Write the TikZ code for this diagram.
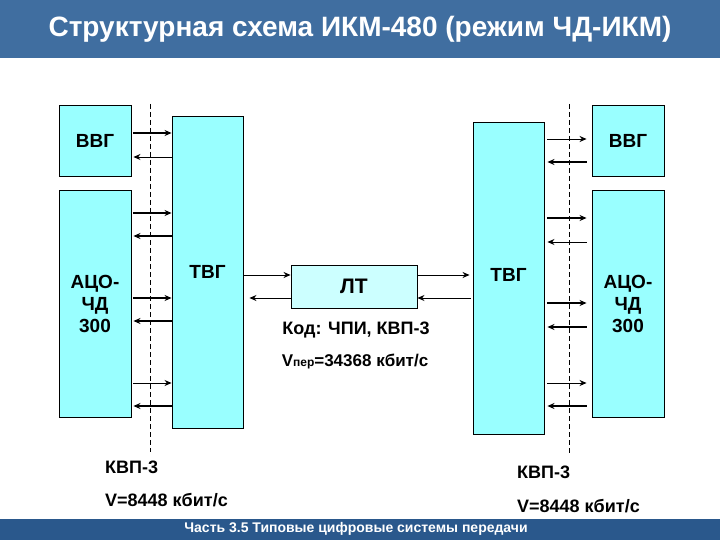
\documentclass[tikz,border=0pt]{standalone}
\usepackage{fontspec}
\setmainfont{Liberation Sans}
\usepackage{tikz}
\usetikzlibrary{arrows.meta}
\definecolor{slideblue}{RGB}{64,110,160}
\definecolor{footblue}{RGB}{42,88,140}
\definecolor{boxcyan}{RGB}{153,255,255}
\definecolor{ltcyan}{RGB}{204,255,255}

\tikzset{
  blk/.style={draw=black, fill=boxcyan, line width=0.9pt, inner sep=0pt,
    align=center, font=\bfseries\fontsize{19}{22}\selectfont},
  fw/.style={-{Stealth[length=7pt,width=6pt]}, line width=0.8pt},
  fwb/.style={fw, line width=2.2pt},
  bk/.style={{Stealth[length=7pt,width=6pt]}-, line width=0.8pt},
  bkb/.style={bk, line width=2.2pt},
  lbl/.style={font=\bfseries\fontsize{18}{21}\selectfont, anchor=west, inner sep=0pt}
}

\begin{document}
\begin{tikzpicture}[x=1pt, y=-1pt]
  \useasboundingbox (0,0) rectangle (720,540);
  \fill[slideblue] (0,0) rectangle (720,58);
  \fill[footblue] (0,519) rectangle (720,540);
  \node[white, font=\bfseries\fontsize{28}{32}\selectfont] (title) at (360,29)
    {Структурная схема ИКМ-480 (режим ЧД-ИКМ)};
  \node[white, font=\bfseries\fontsize{14}{16}\selectfont] (foot) at (356,529)
    {Часть 3.5 Типовые цифровые системы передачи};
  % Left side
  \node[blk, minimum width=72, minimum height=71] (vvgL) at (95,140.5) {ВВГ};
  \node[blk, minimum width=72, minimum height=227] (acoL) at (95,303.5) {АЦО-\\ЧД\\300};
  \node[blk, minimum width=71, minimum height=312] (tvgL) at (207.5,272) {};
  \node[font=\bfseries\fontsize{19}{22}\selectfont] at (207.5,272) {ТВГ};
  \coordinate (dashLa) at (150,104);
  \coordinate (dashLb) at (150,452);
  \draw[dash pattern=on 5pt off 3pt, line width=0.8pt] (dashLa) -- (dashLb);
  \foreach \y/\s in {133/fwb, 157/bk}
    \draw[\s, shorten <=2pt] (vvgL.east |- 0,\y) -- (tvgL.west |- 0,\y);
  \foreach \y/\s in {213/fwb, 236/bkb, 298/fwb, 321/bkb, 383/fw, 406/bkb}
    \draw[\s, shorten <=2pt] (acoL.east |- 0,\y) -- (tvgL.west |- 0,\y);
  % Right side
  \node[blk, minimum width=72, minimum height=71] (vvgR) at (628,140.5) {ВВГ};
  \node[blk, minimum width=72, minimum height=227] (acoR) at (628,303.5) {АЦО-\\ЧД\\300};
  \node[blk, minimum width=71, minimum height=312] (tvgR) at (508.5,278) {};
  \node[font=\bfseries\fontsize{19}{22}\selectfont] at (508.5,275) {ТВГ};
  \coordinate (dashRa) at (569,104);
  \coordinate (dashRb) at (569,455);
  \draw[dash pattern=on 5pt off 3pt, line width=0.8pt] (dashRa) -- (dashRb);
  \foreach \y/\s in {139/fw, 162/bkb}
    \draw[\s, shorten <=3pt, shorten >=5pt] (tvgR.east |- 0,\y) -- (vvgR.west |- 0,\y);
  \foreach \y/\s in {218/fwb, 242/bk, 303/fwb, 327/bkb, 383/fw, 406/bkb}
    \draw[\s, shorten <=3pt, shorten >=5pt] (tvgR.east |- 0,\y) -- (acoR.west |- 0,\y);
  % Line terminal
  \node[blk, fill=ltcyan, minimum width=126, minimum height=43,
    font=\bfseries\fontsize{21}{24}\selectfont] (lt) at (354,286.5) {ЛТ};
  \draw[fw] (tvgL.east |- 0,275) -- (lt.west |- 0,275);
  \draw[bk, shorten <=6pt] (tvgL.east |- 0,298) -- (lt.west |- 0,298);
  \draw[fw, shorten >=3pt] (lt.east |- 0,275) -- (tvgR.west |- 0,275);
  \draw[bk, shorten >=2pt] (lt.east |- 0,298) -- (tvgR.west |- 0,298);
  \node[font=\bfseries\fontsize{18}{21}\selectfont] (code) at (356,330) {Код: ЧПИ, КВП-3};
  \node[font=\bfseries\fontsize{17}{20}\selectfont] (rate) at (355,362)
    {V{\fontsize{12}{14}\selectfont пер}=34368 кбит/с};
  % Bottom labels
  \node[lbl] (kvpL) at (105,467) {КВП-3};
  \node[lbl] (vL) at (105,500) {V=8448 кбит/с};
  \node[lbl] (kvpR) at (517,472) {КВП-3};
  \node[lbl] (vR) at (517,506) {V=8448 кбит/с};
\end{tikzpicture}
\end{document}
